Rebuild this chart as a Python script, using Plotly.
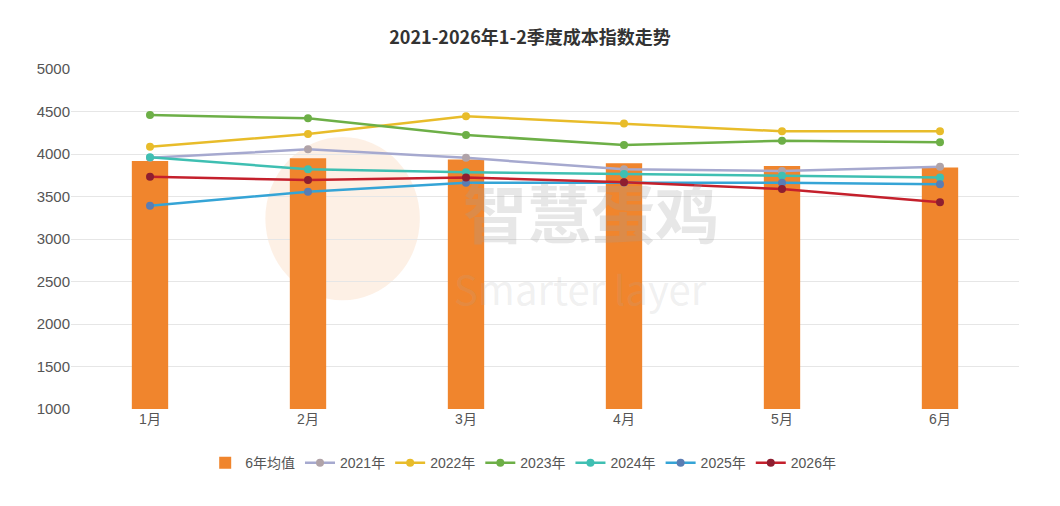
import plotly.graph_objects as go

months = ["1月", "2月", "3月", "4月", "5月", "6月"]
avg6 = [3918, 3950, 3935, 3890, 3860, 3840]
y2021 = [3955, 4055, 3955, 3820, 3800, 3850]
y2022 = [4085, 4235, 4445, 4360, 4267, 4267]
y2023 = [4458, 4420, 4224, 4106, 4157, 4137]
y2024 = [3962, 3820, 3785, 3765, 3745, 3725]
y2025 = [3392, 3557, 3662, 3665, 3662, 3643]
y2026 = [3733, 3694, 3725, 3667, 3588, 3432]
yticks = [1000, 1500, 2000, 2500, 3000, 3500, 4000, 4500, 5000]

series = [
    ("2021年", y2021, "#A6A9CF", "#B0A3A8"),
    ("2022年", y2022, "#E8BC2A", "#E8BC2A"),
    ("2023年", y2023, "#6DAF47", "#6DAF47"),
    ("2024年", y2024, "#3FBFB2", "#3FBFB2"),
    ("2025年", y2025, "#35A4D6", "#5B7DB3"),
    ("2026年", y2026, "#C4202C", "#8E1E30"),
]

fig = go.Figure()
fig.add_trace(go.Bar(x=months, y=avg6, name="6年均值", marker_color="#F0852D",
                     marker_line_width=0, width=0.23))
for name, vals, lc, mc in series:
    fig.add_trace(go.Scatter(x=months, y=vals, name=name, mode="lines+markers",
                             line=dict(color=lc, width=2.5),
                             marker=dict(color=mc, size=8)))

cjk = "Noto Sans CJK SC, sans-serif"
num = "Liberation Sans, Noto Sans CJK SC, sans-serif"
fig.update_layout(
    width=1060, height=506,
    margin=dict(l=71, r=41, t=69, b=97),
    paper_bgcolor="white", plot_bgcolor="white",
    font=dict(family=num, color="#555555", size=14),
    title=dict(text="<b>2021-2026年1-2季度成本指数走势</b>", x=0.5, xanchor="center",
               y=0.925, yanchor="middle", font=dict(size=18, color="#333333", family=cjk)),
    xaxis=dict(showgrid=False, showline=False, ticks="",
               tickfont=dict(size=14, color="#555555", family=num)),
    yaxis=dict(range=[1000, 5000], tickvals=yticks, showgrid=True, gridcolor="#E6E6E6",
               gridwidth=1, zeroline=False, showline=False, ticks="",
               tickfont=dict(size=15, color="#555555", family=num)),
    legend=dict(orientation="h", x=0.477, xanchor="center", y=-0.159, yanchor="middle",
                font=dict(size=14, color="#555555", family=num), itemwidth=30,
                tracegroupgap=0),
    bargap=0.2,
    showlegend=True,
)

# Watermark
fig.add_shape(type="circle", xref="paper", yref="paper", x0=0.205, x1=0.368, y0=0.32, y1=0.8,
              fillcolor="rgba(245,170,110,0.18)", line_width=0, layer="below")
fig.add_annotation(text="<b>智慧蛋鸡</b>", xref="paper", yref="paper", x=0.549, y=0.585,
                   showarrow=False, font=dict(size=64, color="rgba(160,160,160,0.25)", family=cjk))
fig.add_annotation(text="Smarter layer", xref="paper", yref="paper", x=0.537, y=0.355,
                   showarrow=False, font=dict(size=40, color="rgba(170,170,170,0.18)", family=cjk))

fig.write_html("out.html")
